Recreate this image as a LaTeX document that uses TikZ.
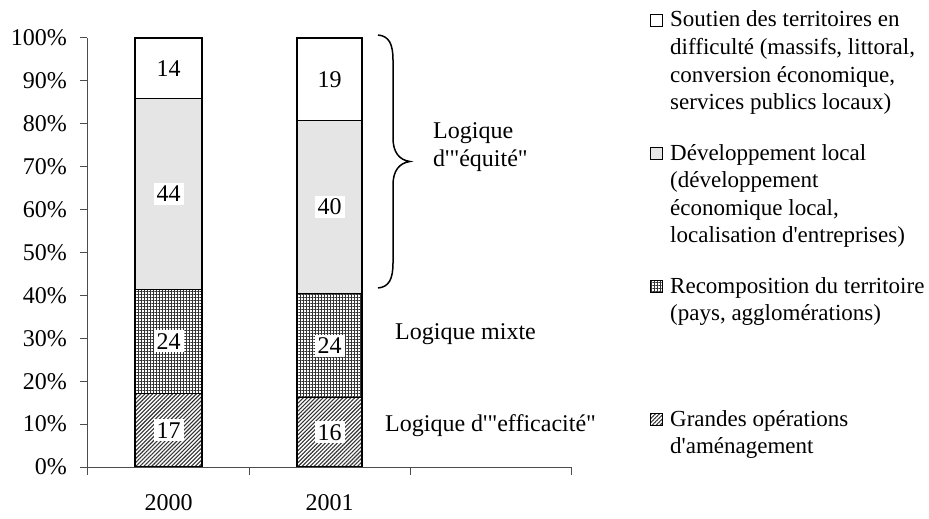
\documentclass[tikz,border=0pt]{standalone}
\usepackage{fontspec}
\setmainfont{Liberation Serif}[Ligatures=TeXOff]
\usetikzlibrary{patterns,patterns.meta}
\begin{document}
\begin{tikzpicture}[x=1pt,y=-1pt,
  bar/.style={draw=black,line width=1.5pt},
  hatchfill/.style={pattern={Lines[angle=45,distance=2.8pt,line width=1.1pt]},pattern color=black!80},
  gridfill/.style={pattern={Hatch[distance=3pt,line width=0.75pt]},pattern color=black!80},
  dotfill/.style={fill=black!10},
  whitefill/.style={fill=white},
  val/.style={fill=white,inner sep=3pt,font=\fontsize{24}{28}\selectfont},
  ax/.style={draw=black!70,line width=1pt},
  tlab/.style={font=\fontsize{24}{28}\selectfont,inner sep=0pt},
  note/.style={font=\fontsize{24}{28}\selectfont,inner sep=0pt,anchor=base west},
  leg/.style={font=\fontsize{23}{27.6}\selectfont,inner sep=0pt,anchor=base west},
  legbox/.style={draw=black,line width=1.4pt,minimum size=12.5pt,inner sep=0pt}
]
\useasboundingbox (0,0) rectangle (929,519);

% bars 2000
\draw[bar,hatchfill] (135,467) rectangle (202,393.3);
\draw[bar,gridfill]  (135,393.3) rectangle (202,289.3);
\draw[bar,dotfill]   (135,289.3) rectangle (202,98.7);
\draw[bar,whitefill] (135,98.7) rectangle (202,38);
% bars 2001
\draw[bar,hatchfill] (297,467) rectangle (362,397.7);
\draw[bar,gridfill]  (297,397.7) rectangle (362,293.7);
\draw[bar,dotfill]   (297,293.7) rectangle (362,120.3);
\draw[bar,whitefill] (297,120.3) rectangle (362,38);

% axes
\coordinate (ytop) at (87,38);
\coordinate (o) at (87,467);
\coordinate (xend) at (571,467);
\draw[ax] (ytop) -- (o) -- (xend);
\foreach \i in {0,...,10} {
  \draw[ax] (80,{467-\i*42.9}) -- (87,{467-\i*42.9});
  \node[tlab,anchor=east] (yl\i) at (67,{467-\i*42.9}) {\the\numexpr\i*10\relax\%};
}
\foreach \x in {87,249,410,571} {
  \draw[ax] (\x,467) -- (\x,475);
}
\node[tlab] (x2000) at (168.5,503) {2000};
\node[tlab] (x2001) at (329.5,503) {2001};

% values
\node[val] (a17) at (168.5,430.2) {17};
\node[val] (a24) at (168.5,341.3) {24};
\node[val] (a44) at (168.5,194) {44};
\node[val] (a14) at (168.5,68.4) {14};
\node[val] (b16) at (329.5,432.4) {16};
\node[val] (b24) at (329.5,345.7) {24};
\node[val] (b40) at (329.5,207) {40};
\node[val] (b19) at (329.5,79.2) {19};

% brace
\draw[line width=1.5pt] (378,35) .. controls (389,36) and (393,44) .. (393,60)
  -- (393,138) .. controls (393,152) and (399,160) .. (410,161.5)
  .. controls (399,163) and (393,171) .. (393,185)
  -- (393,263) .. controls (393,279) and (389,287) .. (378,288);

\node[note] (equite) at (433,138) {\begin{tabular}[t]{@{}l@{}}Logique\\d'"équité"\end{tabular}};
\node[note] (mixte) at (395,339) {Logique mixte};
\node[note] (effic) at (385,431) {Logique d'"efficacité"};

% legend
\node[legbox,whitefill] (k1) at (656.5,20.5) {};
\node[leg] (l1) at (670,27) {\begin{tabular}[t]{@{}l@{}}Soutien des territoires en\\difficulté (massifs, littoral,\\conversion économique,\\services publics locaux)\end{tabular}};
\node[legbox,dotfill] (k2) at (656.5,153.5) {};
\node[leg] (l2) at (670,160) {\begin{tabular}[t]{@{}l@{}}Développement local\\(développement\\économique local,\\localisation d'entreprises)\end{tabular}};
\node[legbox,gridfill] (k3) at (656.5,286.5) {};
\node[leg] (l3) at (670,293) {\begin{tabular}[t]{@{}l@{}}Recomposition du territoire\\(pays, agglomérations)\end{tabular}};
\node[legbox,hatchfill] (k4) at (656.5,419.5) {};
\node[leg] (l4) at (670,426) {\begin{tabular}[t]{@{}l@{}}Grandes opérations\\d'aménagement\end{tabular}};
\end{tikzpicture}
\end{document}
